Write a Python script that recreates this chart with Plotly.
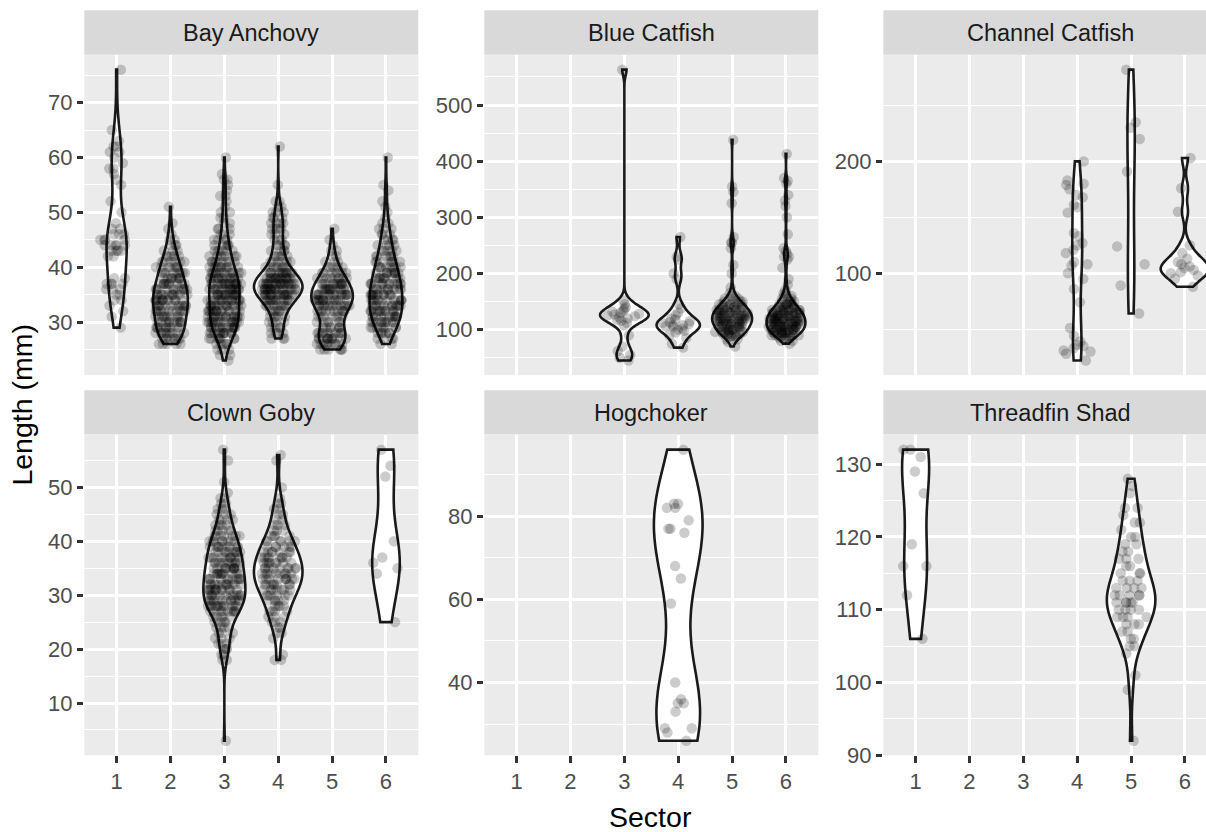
import numpy as np
import plotly.graph_objects as go

# ---------------- data (lengths in mm) ----------------
sectors = [1, 2, 3, 4, 5, 6]
sector_labels = ["1", "2", "3", "4", "5", "6"]
species = ["Bay Anchovy", "Blue Catfish", "Channel Catfish",
           "Clown Goby", "Hogchoker", "Threadfin Shad"]

# Bay Anchovy
bay_s1 = [29, 31, 32, 33, 34, 34, 35, 35, 36, 36, 36, 37, 37, 37, 37, 38, 38, 42, 42, 43,
          43, 43, 43, 44, 44, 44, 44, 44, 45, 45, 45, 45, 46, 46, 46, 47, 47, 48, 50, 52,
          55, 56, 57, 58, 58, 59, 60, 61, 61, 62, 62, 63, 65, 76]
bay_s2_len = [26, 27, 28, 29, 30, 31, 32, 33, 34, 35, 36, 37, 38, 39, 40, 41, 42, 43, 44, 45, 46, 47, 48, 51]
bay_s2_cnt = [5, 8, 9, 10, 10, 10, 11, 12, 12, 12, 11, 10, 9, 8, 7, 6, 5, 3, 3, 2, 1, 1, 1, 1]
bay_s3_len = [23, 24, 25, 26, 27, 28, 29, 30, 31, 32, 33, 34, 35, 36, 37, 38, 39, 40, 41, 42,
              43, 44, 45, 46, 47, 48, 49, 50, 51, 52, 53, 54, 55, 56, 57, 60]
bay_s3_cnt = [1, 2, 3, 5, 8, 11, 13, 15, 15, 14, 14, 15, 15, 16, 16, 14, 12, 10, 8, 7,
              6, 5, 4, 3, 3, 2, 2, 2, 1, 1, 2, 1, 1, 2, 1, 1]
bay_s4_len = [27, 28, 29, 30, 31, 32, 33, 34, 35, 36, 37, 38, 39, 40, 41, 42, 43, 44, 45, 46,
              47, 48, 49, 50, 51, 52, 55, 62]
bay_s4_cnt = [3, 4, 4, 4, 5, 6, 9, 13, 18, 20, 20, 18, 12, 8, 6, 5, 4, 4, 3, 3,
              4, 4, 3, 3, 2, 2, 1, 1]
bay_s5_len = [25, 26, 27, 28, 29, 30, 31, 32, 33, 34, 35, 36, 37, 38, 39, 40, 41, 42, 43, 44, 45, 47]
bay_s5_cnt = [6, 9, 11, 10, 7, 6, 7, 10, 13, 15, 15, 14, 12, 9, 7, 5, 3, 2, 2, 1, 1, 1]
bay_s6_len = [26, 27, 28, 29, 30, 31, 32, 33, 34, 35, 36, 37, 38, 39, 40, 41, 42, 43, 44, 45,
              46, 47, 48, 49, 50, 51, 52, 54, 55, 60]
bay_s6_cnt = [2, 4, 6, 8, 10, 11, 12, 12, 12, 12, 11, 11, 10, 9, 8, 7, 6, 5, 4, 4,
              3, 3, 2, 1, 1, 1, 1, 1, 1, 1]

# Blue Catfish
blue_s3 = [45, 50, 55, 62, 70, 90, 108, 112, 116, 118, 120, 122, 124, 125, 127, 128, 130,
           132, 134, 137, 140, 145, 152, 563]
blue_s4 = [68, 75, 85, 90, 95, 98, 100, 102, 105, 106, 108, 108, 110, 112, 113, 115, 118,
           120, 125, 130, 138, 145, 190, 200, 225, 230, 265]
blue_s5_len = [70, 78, 83, 88, 92, 96, 100, 105, 110, 115, 120, 125, 130, 135, 140, 145, 150,
               155, 160, 165, 175, 200, 215, 245, 255, 265, 325, 345, 355, 438]
blue_s5_cnt = [1, 1, 2, 4, 5, 6, 7, 8, 9, 10, 10, 10, 9, 8, 7, 6, 4,
               3, 2, 1, 1, 1, 1, 1, 2, 1, 1, 1, 1, 1]
blue_s6_len = [75, 80, 85, 90, 95, 100, 105, 110, 115, 120, 125, 130, 135, 140, 145, 150, 155,
               160, 165, 170, 180, 190, 210, 225, 230, 235, 240, 245, 270, 300, 320, 330, 340,
               360, 365, 370, 413]
blue_s6_cnt = [1, 2, 5, 8, 10, 11, 12, 12, 12, 12, 11, 10, 9, 7, 6, 4, 3,
               2, 2, 1, 1, 1, 1, 1, 2, 1, 1, 1, 1, 1, 1, 1, 1,
               1, 1, 1, 1]

# Channel Catfish
chan_s4 = [22, 28, 30, 31, 33, 35, 36, 39, 44, 51, 74, 86, 95, 100, 107, 108, 110, 118, 121,
           125, 127, 133, 136, 154, 159, 161, 168, 170, 175, 179, 180, 183, 200]
chan_s5 = [64, 89, 108, 124, 191, 220, 230, 235, 282]
chan_s6 = [88, 95, 98, 100, 101, 103, 105, 106, 108, 110, 113, 118, 125, 155, 176, 203]

# Clown Goby
goby_s3_len = [3, 18, 19, 20, 21, 22, 23, 24, 25, 26, 27, 28, 29, 30, 31, 32, 33, 34, 35, 36,
               37, 38, 39, 40, 41, 42, 43, 44, 45, 46, 47, 48, 49, 51, 55, 57]
goby_s3_cnt = [1, 2, 2, 3, 3, 3, 3, 4, 4, 5, 9, 12, 12, 12, 12, 12, 11, 11, 11, 10,
               10, 9, 9, 8, 7, 5, 4, 4, 3, 3, 2, 2, 1, 1, 1, 1]
goby_s4_len = [18, 19, 22, 23, 24, 25, 26, 27, 28, 29, 30, 31, 32, 33, 34, 35, 36, 37, 38, 39,
               40, 41, 42, 43, 44, 45, 46, 47, 48, 50, 55, 56]
goby_s4_cnt = [2, 1, 1, 2, 2, 3, 3, 4, 4, 5, 6, 7, 8, 9, 9, 9, 8, 8, 7, 6,
               6, 4, 3, 3, 2, 2, 2, 2, 1, 1, 1, 1]
goby_s6 = [25, 34, 35, 36, 37, 40, 52, 54, 57]

# Hogchoker
hog_s4 = [26, 28, 29, 29, 33, 35, 35, 36, 40, 59, 65, 68, 76, 77, 77, 79, 82, 82, 83, 83, 96]

# Threadfin Shad
shad_s1 = [106, 112, 116, 116, 119, 126, 129, 131, 132, 132]
shad_s5_len = [92, 99, 101, 104, 105, 106, 107, 108, 109, 110, 111, 112, 113, 114, 115, 116,
               117, 118, 119, 120, 121, 122, 123, 124, 126, 127, 128]
shad_s5_cnt = [1, 1, 1, 1, 2, 2, 2, 3, 4, 4, 5, 5, 4, 3, 3, 2,
               3, 2, 2, 2, 1, 2, 1, 2, 1, 1, 1]

# y tick spacing per panel (major, minor)
y_major = [10, 100, 100, 10, 20, 10]
y_minor = [5, 50, 50, 5, 10, 5]


def expand(lengths, counts):
    return list(np.repeat(lengths, counts))


groups = [
    [(1, bay_s1), (2, expand(bay_s2_len, bay_s2_cnt)), (3, expand(bay_s3_len, bay_s3_cnt)),
     (4, expand(bay_s4_len, bay_s4_cnt)), (5, expand(bay_s5_len, bay_s5_cnt)),
     (6, expand(bay_s6_len, bay_s6_cnt))],
    [(3, blue_s3), (4, blue_s4), (5, expand(blue_s5_len, blue_s5_cnt)),
     (6, expand(blue_s6_len, blue_s6_cnt))],
    [(4, chan_s4), (5, chan_s5), (6, chan_s6)],
    [(3, expand(goby_s3_len, goby_s3_cnt)), (4, expand(goby_s4_len, goby_s4_cnt)), (6, goby_s6)],
    [(4, hog_s4)],
    [(1, shad_s1), (5, expand(shad_s5_len, shad_s5_cnt))],
]


def nrd0(v):
    """R's bw.nrd0 (the ggplot2 default bandwidth)."""
    v = np.asarray(v, dtype=float)
    hi = np.std(v, ddof=1)
    q75, q25 = np.percentile(v, [75, 25])
    lo = min(hi, (q75 - q25) / 1.34)
    if lo <= 0:
        lo = hi if hi > 0 else 1.0
    return 0.9 * lo * len(v) ** (-0.2)


def kde_peak(v, bw):
    """Peak of the trimmed gaussian density (used for ggplot's scale='area')."""
    v = np.asarray(v, dtype=float)
    grid = np.linspace(v.min(), v.max(), 512)
    d = np.exp(-0.5 * ((grid[:, None] - v[None, :]) / bw) ** 2).sum(1)
    return (d / (len(v) * bw * np.sqrt(2 * np.pi))).max()


# ---------------- layout geometry (pixels) ----------------
W, H = 1206, 832
COLS = [(84.3, 418.3), (484.3, 818.3), (883.3, 1217.3)]
ROWS = [(56.0, 381.0), (442.0, 767.3)]
STRIP = 45.5
UNIT = (COLS[0][1] - COLS[0][0]) / 6.2
VIOLIN_W = 0.9

FONT = "Liberation Sans, Arial, sans-serif"
fig = go.Figure()
shapes = []
annotations = []

for i, name in enumerate(species):
    r, c = divmod(i, 3)
    x0, x1 = COLS[c]
    y0, y1 = ROWS[r]
    vis_x1 = min(x1, W)
    xr = [0.4, 0.4 + (vis_x1 - x0) / UNIT]
    ax = "" if i == 0 else str(i + 1)

    allv = np.concatenate([np.asarray(g[1], float) for g in groups[i]])
    lo, hi = allv.min(), allv.max()
    span = hi - lo
    yr = [lo - 0.05 * span, hi + 0.05 * span]

    bws = [nrd0(vals) for _, vals in groups[i]]
    peaks = [kde_peak(vals, bw) for (_, vals), bw in zip(groups[i], bws)]
    pmax = max(peaks)

    # violins (area-scaled within the panel)
    for (sec, vals), bw, pk in zip(groups[i], bws, peaks):
        fig.add_trace(go.Violin(
            x=[sec] * len(vals), y=vals, xaxis="x" + ax, yaxis="y" + ax,
            points=False, spanmode="hard", width=VIOLIN_W * pk / pmax,
            bandwidth=bw, fillcolor="white", line=dict(color="#1a1a1a", width=2.6),
            box_visible=False, meanline_visible=False, hoverinfo="skip",
            showlegend=False))
    # jittered points on top
    for sec, vals in groups[i]:
        fig.add_trace(go.Violin(
            x=[sec] * len(vals), y=vals, xaxis="x" + ax, yaxis="y" + ax,
            points="all", jitter=0.72, pointpos=0, spanmode="hard", width=VIOLIN_W,
            fillcolor="rgba(0,0,0,0)", line=dict(color="rgba(0,0,0,0)", width=0),
            marker=dict(color="rgba(0,0,0,0.2)", size=10.5, line=dict(width=0)),
            box_visible=False, meanline_visible=False, hoverinfo="skip",
            showlegend=False))

    bottom = (r == 1)
    fig.layout["xaxis" + ax] = dict(
        domain=[x0 / W, vis_x1 / W], anchor="y" + ax, range=xr,
        tickmode="array", tickvals=sectors, ticktext=sector_labels,
        showticklabels=bottom, ticks="outside" if bottom else "",
        ticklen=6.5, tickwidth=2.6, tickcolor="#333333",
        tickfont=dict(size=22, color="#4D4D4D", family=FONT),
        showgrid=True, gridcolor="white", gridwidth=2.6, zeroline=False, showline=False)
    fig.layout["yaxis" + ax] = dict(
        domain=[1 - y1 / H, 1 - y0 / H], anchor="x" + ax, range=yr,
        tick0=0, dtick=y_major[i], ticks="outside",
        ticklen=6.5, tickwidth=2.6, tickcolor="#333333",
        tickfont=dict(size=22, color="#4D4D4D", family=FONT),
        showgrid=True, gridcolor="white", gridwidth=2.6, zeroline=False, showline=False,
        minor=dict(tick0=0, dtick=y_minor[i], showgrid=True, gridcolor="white",
                   gridwidth=1.3, ticks=""))

    shapes.append(dict(type="rect", xref="paper", yref="paper",
                       x0=x0 / W, x1=vis_x1 / W,
                       y0=1 - (y0 - 0.5) / H, y1=1 - (y0 - STRIP) / H,
                       fillcolor="#D9D9D9", line=dict(width=0), layer="below"))
    annotations.append(dict(text=name, xref="paper", yref="paper",
                            x=(x0 + x1) / 2 / W, y=1 - (y0 - STRIP / 2) / H,
                            showarrow=False, xanchor="center", yanchor="middle",
                            font=dict(size=23.5, color="#1A1A1A", family=FONT)))

annotations.append(dict(text="Sector", xref="paper", yref="paper",
                        x=650.8 / W, y=1 - 830 / H, showarrow=False,
                        xanchor="center", yanchor="middle",
                        font=dict(size=28.5, color="black", family=FONT)))
annotations.append(dict(text="Length (mm)", xref="paper", yref="paper",
                        x=22 / W, y=1 - 411 / H, showarrow=False, textangle=-90,
                        xanchor="center", yanchor="middle",
                        font=dict(size=28.5, color="black", family=FONT)))

fig.update_layout(
    width=W, height=H, margin=dict(l=0, r=0, t=0, b=0),
    paper_bgcolor="white", plot_bgcolor="#EBEBEB",
    violinmode="overlay", showlegend=False,
    shapes=shapes, annotations=annotations,
    font=dict(family=FONT),
)

fig.write_html("out.html")
